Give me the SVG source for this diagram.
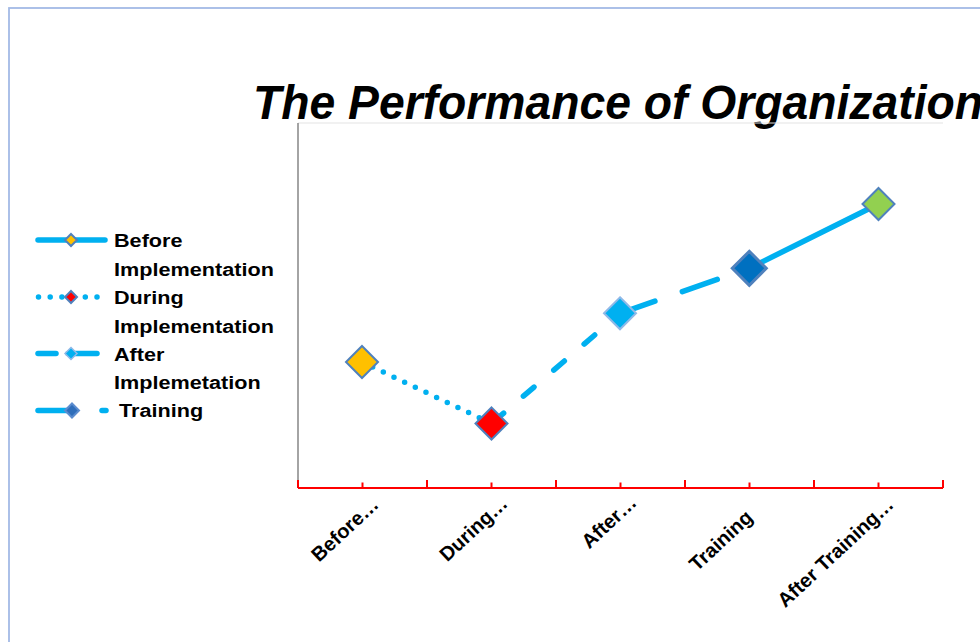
<svg xmlns="http://www.w3.org/2000/svg" width="980" height="642" viewBox="0 0 980 642">
  <style>
    .title { font-family: "Liberation Sans", Arial, sans-serif; font-weight: bold; font-style: italic; font-size: 48px; fill: #000; }
    .leg { font-family: "Liberation Sans", Arial, sans-serif; font-weight: bold; font-size: 18.5px; fill: #000; }
    .cat { font-family: "Liberation Sans", Arial, sans-serif; font-weight: bold; font-size: 20px; fill: #000; text-anchor: end; }
    .ser { fill: none; stroke: #00B0F0; stroke-width: 5.5; stroke-linecap: round; }
    .mk { stroke: #4F81BD; stroke-width: 2; }
    .tick { stroke: #FF0000; stroke-width: 2; }
  </style>
  <rect x="0" y="0" width="980" height="642" fill="#FFFFFF"/>
  <rect id="frame" x="9" y="8" width="1000" height="1000" fill="none" stroke="#A3BAE6" stroke-width="1.8"/>

  <text id="title" class="title" x="253" y="119" textLength="730" lengthAdjust="spacingAndGlyphs">The Performance of Organization</text>

  <g id="plot-area">
    <line x1="298" y1="123" x2="943" y2="123" stroke="#E3E3E3" stroke-width="1"/>
    <line x1="298" y1="123" x2="298" y2="488" stroke="#868686" stroke-width="1.5"/>
    <line x1="298" y1="488" x2="943" y2="488" stroke="#FF0000" stroke-width="2"/>
    <g id="ticks">
      <line class="tick" x1="298" y1="480" x2="298" y2="488"/>
      <line class="tick" x1="427" y1="480" x2="427" y2="488"/>
      <line class="tick" x1="556" y1="480" x2="556" y2="488"/>
      <line class="tick" x1="685" y1="480" x2="685" y2="488"/>
      <line class="tick" x1="814" y1="480" x2="814" y2="488"/>
      <line class="tick" x1="943" y1="480" x2="943" y2="488"/>
      <line class="tick" x1="362.5" y1="482.5" x2="362.5" y2="488"/>
      <line class="tick" x1="491.5" y1="482.5" x2="491.5" y2="488"/>
      <line class="tick" x1="620.5" y1="482.5" x2="620.5" y2="488"/>
      <line class="tick" x1="749.5" y1="482.5" x2="749.5" y2="488"/>
      <line class="tick" x1="878.5" y1="482.5" x2="878.5" y2="488"/>
    </g>
  </g>

  <g id="connectors">
    <line class="ser" x1="362" y1="362" x2="491.5" y2="423.5" stroke-dasharray="0 11.8"/>
    <line class="ser" x1="491.5" y1="423.5" x2="620" y2="313.3" stroke-dasharray="14 26" stroke-dashoffset="-2"/>
    <line class="ser" x1="620" y1="313.3" x2="749.3" y2="268.3" stroke-dasharray="37 29"/>
    <line class="ser" x1="749.3" y1="268.3" x2="878.5" y2="204"/>
  </g>

  <g id="node-before">
    <polygon class="mk" points="362,346 378,362 362,378 346,362" fill="#FFC000"/>
  </g>
  <g id="node-during">
    <polygon class="mk" points="491.5,407.5 507.5,423.5 491.5,439.5 475.5,423.5" fill="#FF0000"/>
  </g>
  <g id="node-after">
    <polygon points="620,297.3 636,313.3 620,329.3 604,313.3" fill="#00B0F0" stroke="#8FB9E8" stroke-width="2"/>
  </g>
  <g id="node-training">
    <polygon points="749.3,251.3 766.3,268.3 749.3,285.3 732.3,268.3" fill="#0070C0" stroke="#4F81BD" stroke-width="3"/>
  </g>
  <g id="node-after-training">
    <polygon class="mk" points="878.5,188 894.5,204 878.5,220 862.5,204" fill="#92D050"/>
  </g>

  <g id="category-labels">
    <text class="cat" transform="translate(380,506) rotate(-43)">Before…</text>
    <text class="cat" transform="translate(509,505) rotate(-43)">During…</text>
    <text class="cat" transform="translate(638,504) rotate(-43)">After…</text>
    <text class="cat" transform="translate(754,519) rotate(-43)">Training</text>
    <text class="cat" transform="translate(895,506) rotate(-43)">After Training…</text>
  </g>

  <g id="legend">
    <g id="legend-before">
      <line class="ser" x1="38" y1="240" x2="105" y2="240" stroke-width="5"/>
      <polygon class="mk" stroke-width="1.5" points="71,234 77,240 71,246 65,240" fill="#FFC000"/>
      <text class="leg" transform="translate(114,247) scale(1.17,1)">Before</text>
      <text class="leg" transform="translate(114,276) scale(1.17,1)">Implementation</text>
    </g>
    <g id="legend-during">
      <line class="ser" x1="38.5" y1="297" x2="98" y2="297" stroke-width="5" stroke-dasharray="0 11.7"/>
      <polygon class="mk" stroke-width="1.5" points="71,291 77,297 71,303 65,297" fill="#FF0000"/>
      <text class="leg" transform="translate(114,304) scale(1.17,1)">During</text>
      <text class="leg" transform="translate(114,332.5) scale(1.17,1)">Implementation</text>
    </g>
    <g id="legend-after">
      <line class="ser" x1="38" y1="353.5" x2="56" y2="353.5" stroke-width="5"/>
      <line class="ser" x1="68" y1="353.5" x2="97" y2="353.5" stroke-width="5"/>
      <polygon points="71,347.5 77,353.5 71,359.5 65,353.5" fill="#00B0F0" stroke="#8FB9E8" stroke-width="1.5"/>
      <text class="leg" transform="translate(114,360.5) scale(1.17,1)">After</text>
      <text class="leg" transform="translate(114,388.5) scale(1.17,1)">Implemetation</text>
    </g>
    <g id="legend-training">
      <line class="ser" x1="38" y1="410.5" x2="72" y2="410.5" stroke-width="5"/>
      <line class="ser" x1="102" y1="410.5" x2="106" y2="410.5" stroke-width="5"/>
      <polygon points="72,403.5 79,410.5 72,417.5 65,410.5" fill="#2F6EBA" stroke="#5B8CCF" stroke-width="2"/>
      <text class="leg" transform="translate(119,417) scale(1.17,1)">Training</text>
    </g>
  </g>
</svg>
